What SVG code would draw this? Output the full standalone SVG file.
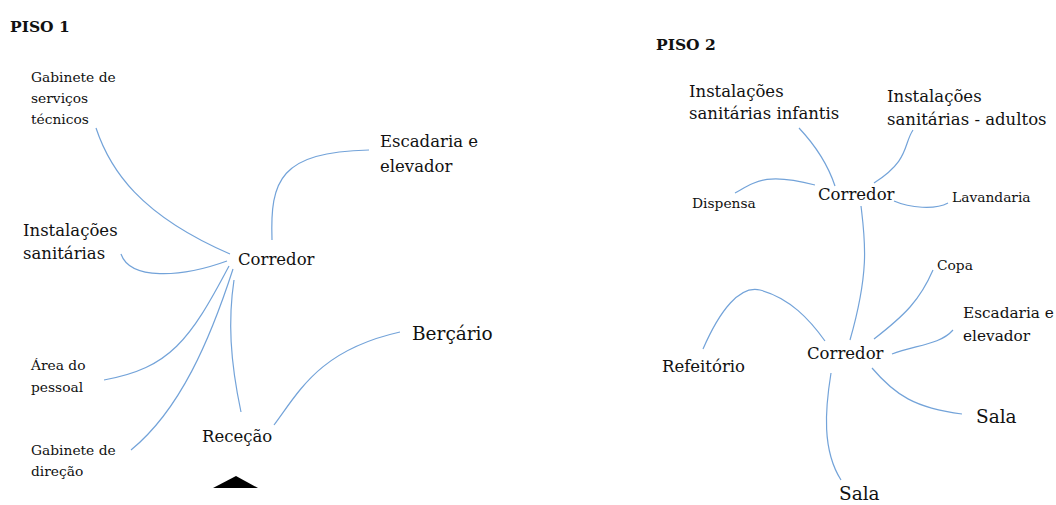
<svg xmlns="http://www.w3.org/2000/svg" width="1056" height="505" viewBox="0 0 1056 505">
<style>
text{font-family:"DejaVu Serif","Liberation Serif",serif;fill:#111}
.t{font-size:16.5px}
.s{font-size:13.8px}
.b{font-size:18.5px}
.h{font-size:15.5px;font-weight:bold}
.c path{fill:none;stroke:#73a3d9;stroke-width:1.2}
</style>
<rect width="1056" height="505" fill="#fff"/>
<g id="connectors" class="c">
<path d="M96,128 C110,170 140,215 230,254"/>
<path d="M272,240 C270,180 280,152 369,150"/>
<path d="M121,254 C130,280 180,278 227,261"/>
<path d="M104,380 C170,368 190,340 229,266"/>
<path d="M131,450 C180,410 210,340 233,269"/>
<path d="M241,412 C230,360 228,320 234,280"/>
<path d="M274,425 C300,390 320,350 400,332"/>
<path d="M799,128 C815,145 828,165 835,186"/>
<path d="M913,130 C903,145 910,160 874,183"/>
<path d="M735,193 C755,182 765,172 815,185"/>
<path d="M894,201 C910,208 935,210 948,203"/>
<path d="M861,206 C865,240 870,270 850,340"/>
<path d="M933,270 C920,300 905,315 874,339"/>
<path d="M953,330 C940,345 915,345 892,354"/>
<path d="M703,349 C720,310 740,285 760,290 C790,298 810,320 825,341"/>
<path d="M872,368 C895,395 915,408 962,414"/>
<path d="M831,373 C825,410 822,450 841,480"/>
</g>
<g id="piso1-title"><text class="h" x="10" y="32">PISO 1</text></g>
<g id="p1-gabinete-tecnicos"><text class="s" x="31" y="82">Gabinete de</text><text class="s" x="31" y="103">serviços</text><text class="s" x="31" y="124">técnicos</text></g>
<g id="p1-escadaria"><text class="t" x="380" y="147">Escadaria e</text><text class="t" x="380" y="172">elevador</text></g>
<g id="p1-corredor"><text class="t" x="238" y="265">Corredor</text></g>
<g id="p1-instalacoes"><text class="t" x="23" y="236">Instalações</text><text class="t" x="23" y="259">sanitárias</text></g>
<g id="p1-area"><text class="s" x="31" y="370">Área do</text><text class="s" x="31" y="392">pessoal</text></g>
<g id="p1-gabinete-direcao"><text class="s" x="31" y="455">Gabinete de</text><text class="s" x="31" y="476">direção</text></g>
<g id="p1-rececao"><text class="t" x="202" y="442">Receção</text></g>
<g id="p1-bercario"><text class="b" x="412" y="340">Berçário</text></g>
<g id="p1-entrada"><polygon points="213,488 236,476 258,488" fill="#000"/></g>
<g id="piso2-title"><text class="h" x="656" y="50">PISO 2</text></g>
<g id="p2-inst-infantis"><text class="t" x="689" y="97">Instalações</text><text class="t" x="689" y="119">sanitárias infantis</text></g>
<g id="p2-inst-adultos"><text class="t" x="887" y="102">Instalações</text><text class="t" x="887" y="125">sanitárias - adultos</text></g>
<g id="p2-dispensa"><text class="s" x="692" y="208">Dispensa</text></g>
<g id="p2-corredor1"><text class="t" x="818" y="200">Corredor</text></g>
<g id="p2-lavandaria"><text class="s" x="952" y="202">Lavandaria</text></g>
<g id="p2-copa"><text class="s" x="937" y="270">Copa</text></g>
<g id="p2-escadaria"><text class="t" x="963" y="318" style="font-size:15.3px">Escadaria e</text><text class="t" x="963" y="341" style="font-size:15.3px">elevador</text></g>
<g id="p2-refeitorio"><text class="t" x="662" y="372">Refeitório</text></g>
<g id="p2-corredor2"><text class="t" x="807" y="359">Corredor</text></g>
<g id="p2-sala1"><text class="b" x="976" y="423">Sala</text></g>
<g id="p2-sala2"><text class="b" x="839" y="500">Sala</text></g>
</svg>
